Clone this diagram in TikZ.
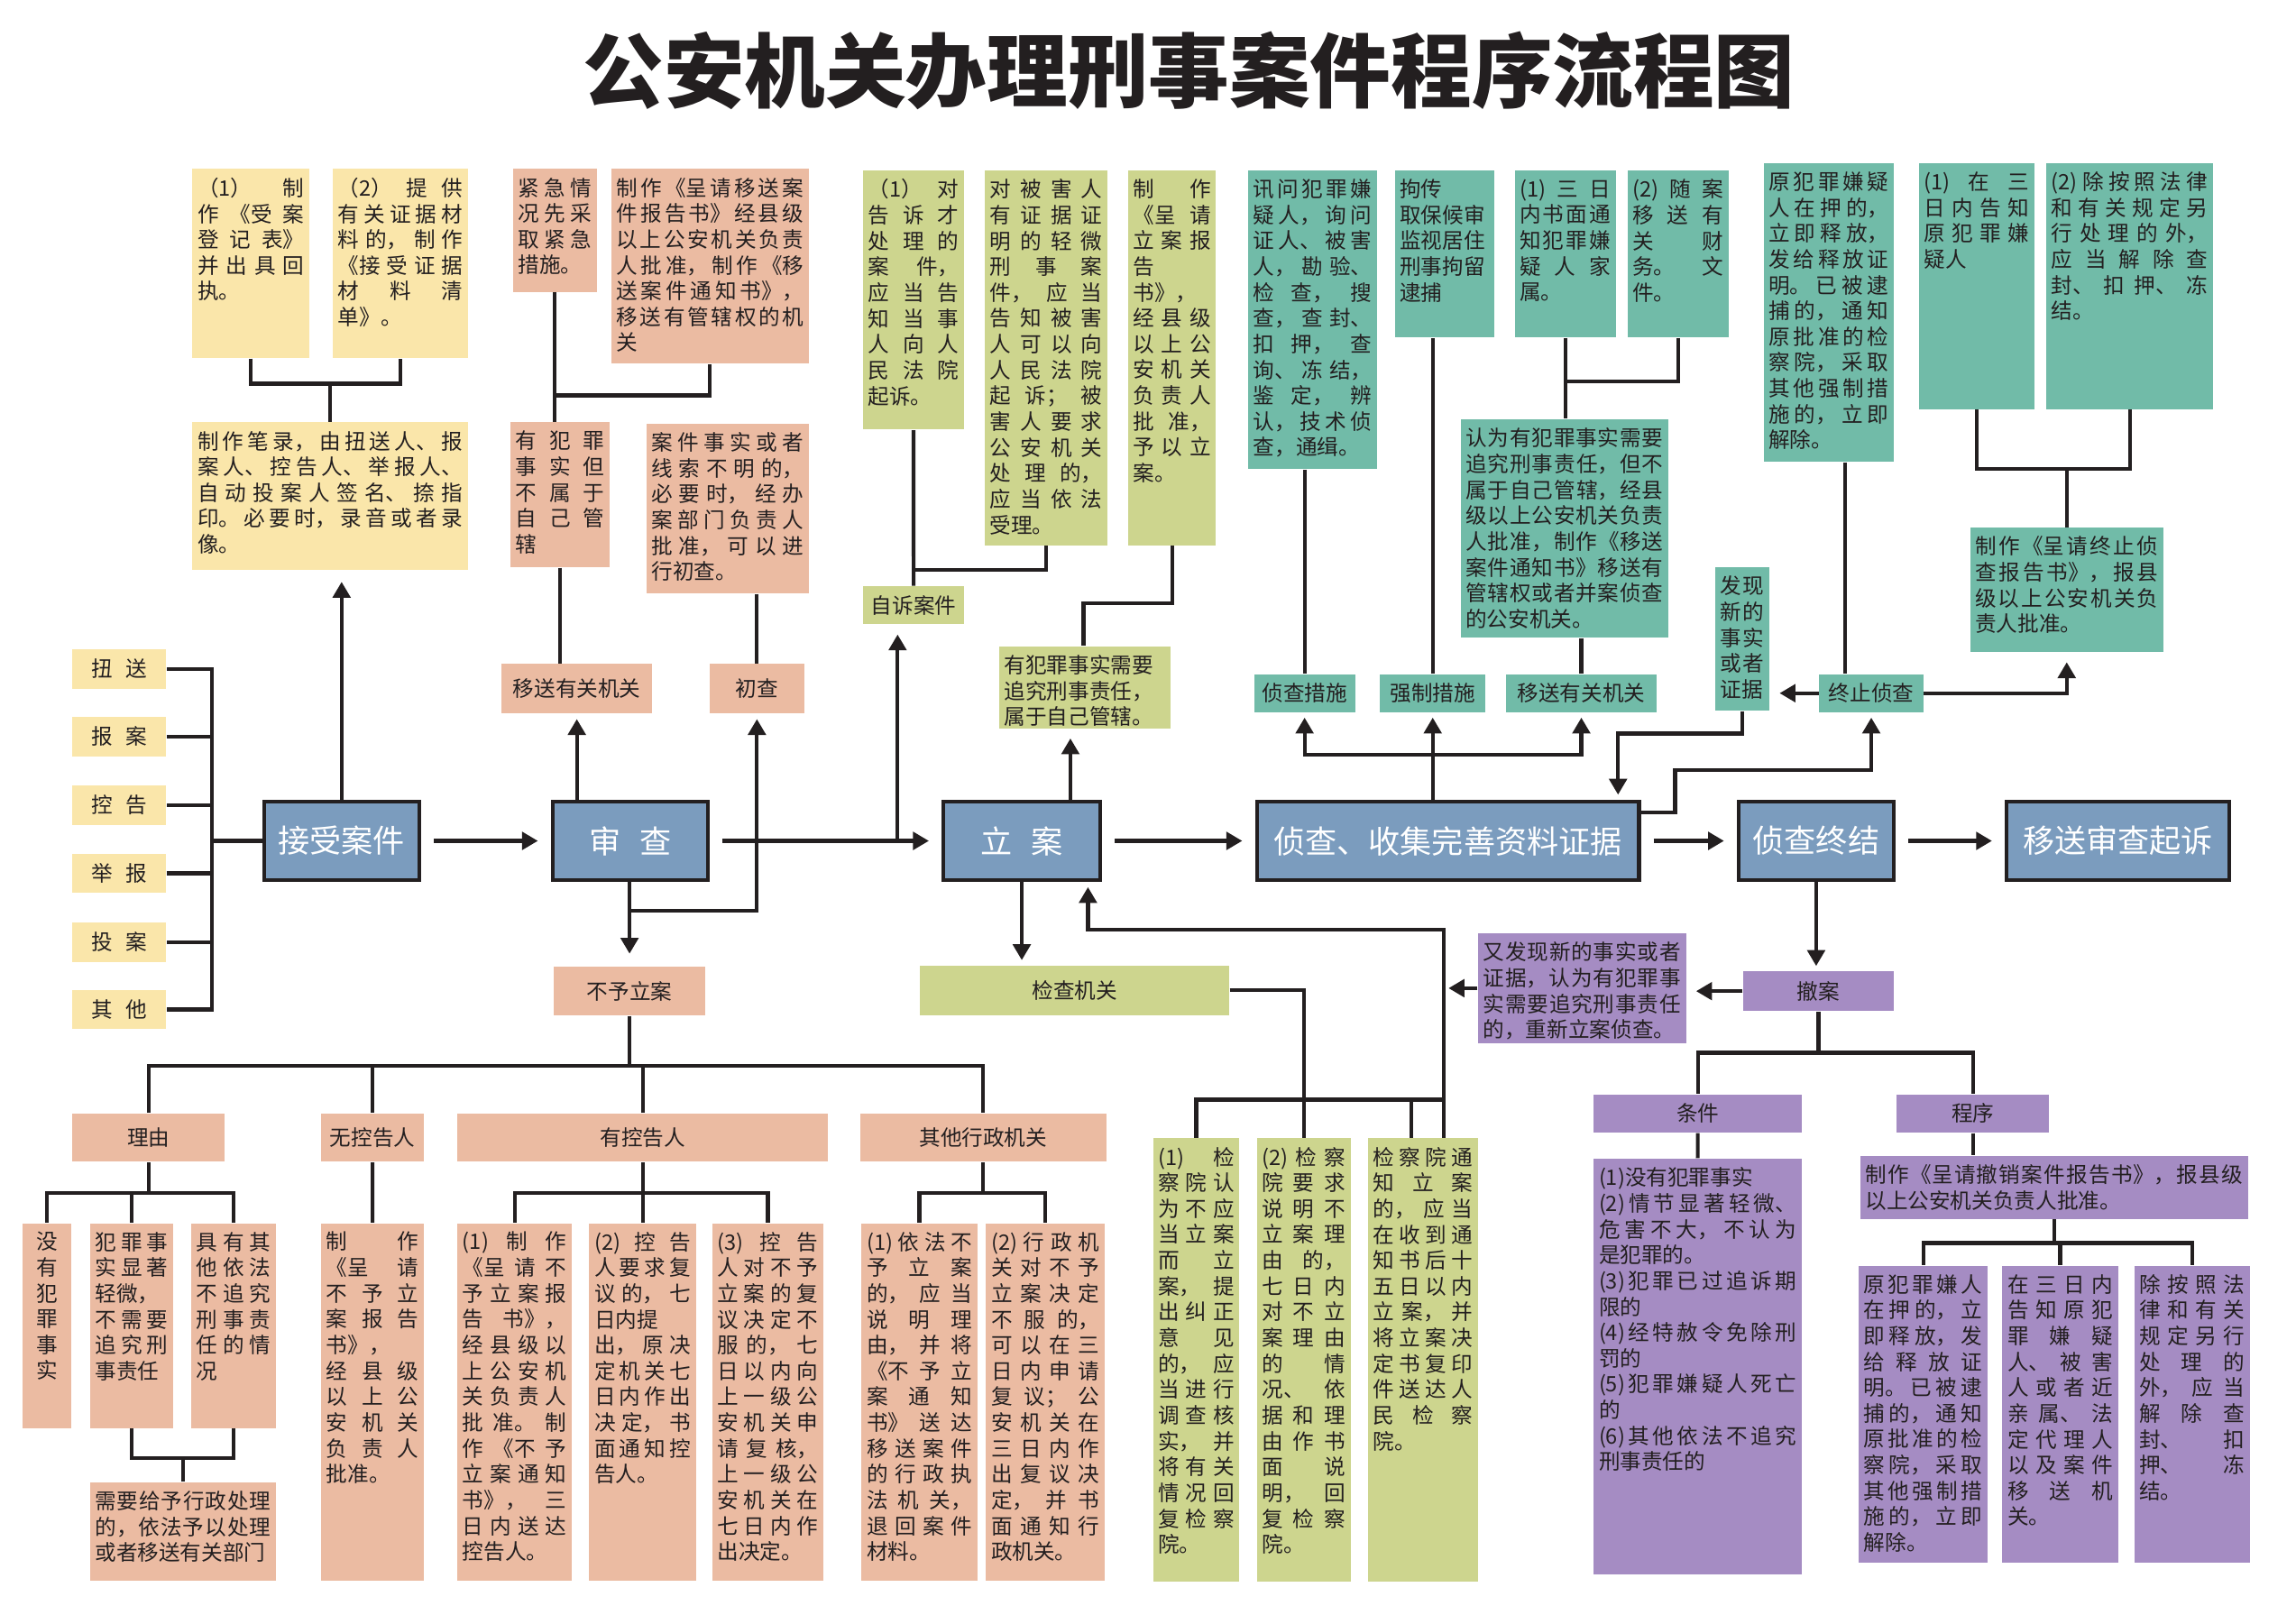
\documentclass[tikz,border=0pt]{standalone}
\usepackage{fontspec}
\setmainfont{Noto Sans CJK SC}
\usetikzlibrary{arrows.meta}

\XeTeXlinebreaklocale "zh"
\XeTeXlinebreakskip=0pt plus 8pt minus 0.5pt
\tolerance=10000
\hbadness=10000
\vbadness=10000
\hfuzz=20pt
\vfuzz=20pt

\definecolor{cYel}{HTML}{FAE6AA}
\definecolor{cPink}{HTML}{EBBBA2}
\definecolor{cOlive}{HTML}{CDD58E}
\definecolor{cTeal}{HTML}{71BBA8}
\definecolor{cPurp}{HTML}{A58CC3}
\definecolor{cBlue}{HTML}{7B9CBE}
\definecolor{cLine}{HTML}{231F20}
\definecolor{cText}{HTML}{231F20}

\newlength\pu
\setlength\pu{0.1624mm}
\newcommand\bx[3]{\parbox[c][\dimexpr#2\pu-12\pu\relax][t]{\dimexpr#1\pu-7\pu\relax}{#3}}
\newcommand\cb[3]{\parbox[c][#2\pu][c]{#1\pu}{\centering #3}}
\newcommand\brk{\linebreak}
\newcommand\bodyfont{\fontsize{6.72pt}{8.15pt}\selectfont}

\tikzset{
  ln/.style={draw=cLine, line width=1.2pt},
  ar/.style={ln, -{Triangle[length=5pt,width=5.5pt]}, shorten >=1.5pt},
  flow/.style={ar, shorten <=4pt, shorten >=4pt},
  note/.style={anchor=north west, inner xsep=1.61pt, inner ysep=2.76pt, text=cText, font=\bodyfont},
  chip/.style={anchor=north west, inner sep=0pt, text=cText, font=\bodyfont},
  ynote/.style={note, fill=cYel},
  pnote/.style={note, fill=cPink},
  gnote/.style={note, fill=cOlive},
  tnote/.style={note, fill=cTeal},
  vnote/.style={note, fill=cPurp},
  ychip/.style={chip, fill=cYel},
  pchip/.style={chip, fill=cPink},
  gchip/.style={chip, fill=cOlive},
  tchip/.style={chip, fill=cTeal},
  vchip/.style={chip, fill=cPurp},
  mainbox/.style={anchor=north west, inner sep=0pt, fill=cBlue, draw=cLine, line width=1.2pt, text=white, font=\fontsize{10pt}{12pt}\selectfont},
}

\begin{document}
\begin{tikzpicture}[x=0.1624mm, y=-0.1624mm]
  \fill[white] (0,0) rectangle (1568,1109);
  \useasboundingbox (0,0) rectangle (1568,1109);

  % title
  \node[font=\bfseries\fontsize{25.5pt}{30pt}\selectfont, text=cText] (title) at (812,48) {公安机关办理刑事案件程序流程图};

  % main line
  \node[mainbox] (jsaj) at (179,546) {\cb{106}{54}{接受案件}};
  \node[mainbox] (sc) at (376,546) {\cb{106}{54}{审\hspace{0.6em}查}};
  \node[mainbox] (la) at (643,546) {\cb{107}{54}{立\hspace{0.6em}案}};
  \node[mainbox] (zc) at (857,546) {\cb{261}{54}{侦查、收集完善资料证据}};
  \node[mainbox] (zj) at (1186,546) {\cb{106}{54}{侦查终结}};
  \node[mainbox] (ys) at (1369,546) {\cb{152}{54}{移送审查起诉}};
  \draw[flow] (jsaj.east) -- (sc.west);
  \draw[flow] (sc.east) -- (la.west);
  \draw[flow] (la.east) -- (zc.west);
  \draw[flow] (zc.east) -- (zj.west);
  \draw[flow] (zj.east) -- (ys.west);

  % sources of a case
  \node[ychip] (n1) at (49,443) {\cb{64}{27}{扭\hspace{4pt}送}};
  \node[ychip] (n2) at (49,489) {\cb{64}{27}{报\hspace{4pt}案}};
  \node[ychip] (n3) at (49,536) {\cb{64}{27}{控\hspace{4pt}告}};
  \node[ychip] (n4) at (49,582.5) {\cb{64}{27}{举\hspace{4pt}报}};
  \node[ychip] (n5) at (49,629.5) {\cb{64}{27}{投\hspace{4pt}案}};
  \node[ychip] (n6) at (49,675.5) {\cb{64}{27}{其\hspace{4pt}他}};
  \coordinate (lx) at (144.5,0);
  \draw[ln] (n1.east) -- (n1.east -| lx) -- (n6.east -| lx) -- (n6.east);
  \draw[ln] (n2.east) -- (n2.east -| lx);
  \draw[ln] (n3.east) -- (n3.east -| lx);
  \draw[ln] (n4.east) -- (n4.east -| lx);
  \draw[ln] (n5.east) -- (n5.east -| lx);
  \draw[ln] (jsaj.west -| lx) -- (jsaj.west);

  % receiving the case
  \node[ynote] (y1) at (131,115) {\bx{80}{129}{（1）制\brk 作《受案\brk 登记表》\brk 并出具回\brk 执。}};
  \node[ynote] (y2) at (227,115) {\bx{92}{129}{（2）提供\brk 有关证据材\brk 料的，制作\brk 《接受证据\brk 材料清\brk 单》。}};
  \node[ynote] (y3) at (131,288) {\bx{188}{101}{制作笔录，由扭送人、报\brk 案人、控告人、举报人、\brk 自动投案人签名、捺指\brk 印。必要时，录音或者录\brk 像。}};
  \coordinate (jy) at (0,262);
  \draw[ln] (y1.south) |- (y2.south |- jy) -- (y2.south);
  \draw[ln] (y3.north |- jy) -- (y3.north);
  \draw[ar, shorten >=3.5pt] (jsaj.north) -- (jsaj.north |- y3.south);

  % review
  \node[pnote] (p1) at (350,115) {\bx{57}{84}{紧急情\brk 况先采\brk 取紧急\brk 措施。}};
  \node[pnote] (p2) at (417,115) {\bx{135}{133}{制作《呈请移送案\brk 件报告书》经县级\brk 以上公安机关负责\brk 人批准，制作《移\brk 送案件通知书》，\brk 移送有管辖权的机\brk 关}};
  \node[pnote] (p3) at (348,288) {\bx{68}{99}{有犯罪\brk 事实但\brk 不属于\brk 自己管\brk 辖}};
  \node[pnote] (p4) at (441,289) {\bx{111}{116}{案件事实或者\brk 线索不明的，\brk 必要时，经办\brk 案部门负责人\brk 批准，可以进\brk 行初查。}};
  \node[pchip] (pmove) at (342,453) {\cb{103}{34}{移送有关机关}};
  \node[pchip] (pchu) at (484,453) {\cb{65}{34}{初查}};
  \node[pchip] (buyu) at (378,660) {\cb{103}{33}{不予立案}};
  \coordinate (jp) at (0,270);
  \draw[ln] (p1.south) -- (p1.south |- p3.north);
  \draw[ln] (p2.south) |- (p1.south |- jp);
  \draw[ln] (p3.south) -- (p3.south |- pmove.north);
  \draw[ln] (p4.south -| pchu.north) -- (pchu.north);
  \draw[ar] (pmove.south |- sc.north) -- (pmove.south);
  \draw[ar, shorten >=4pt] (sc.south -| buyu.north) -- (buyu.north);
  \coordinate (jc) at (429.5,622);
  \draw[ar] (jc) -| (pchu.south);

  % private prosecution and filing
  \node[gnote] (g1) at (589,116) {\bx{69}{177}{（1）对\brk 告诉才\brk 处理的\brk 案件，\brk 应当告\brk 知当事\brk 人向人\brk 民法院\brk 起诉。}};
  \node[gnote] (g2) at (672,116) {\bx{84}{256}{对被害人\brk 有证据证\brk 明的轻微\brk 刑事案\brk 件，应当\brk 告知被害\brk 人可以向\brk 人民法院\brk 起诉；被\brk 害人要求\brk 公安机关\brk 处理的，\brk 应当依法\brk 受理。}};
  \node[gnote] (g3) at (770,116) {\bx{60}{256}{制作\brk 《呈请\brk 立案报\brk 告\\书》，\brk 经县级\brk 以上公\brk 安机关\brk 负责人\brk 批准，\brk 予以立\brk 案。}};
  \node[gchip] (zisu) at (589,400) {\cb{69}{26}{自诉案件}};
  \node[gnote] (gsmall) at (682,441) {\bx{117}{56}{有犯罪事实需要\\追究刑事责任，\\属于自己管辖。}};
  \node[gchip] (jcjg) at (628,659) {\cb{211}{34}{检查机关}};
  \coordinate (jg) at (0,389);
  \coordinate (jg3) at (740,412);
  \coordinate (zs) at (613,573);
  \coordinate (la1) at (731,0);
  \draw[ln] (g1.south) -- (zisu.north);
  \draw[ln] (g2.south) |- (g1.south |- jg);
  \draw[ln] (g3.south) |- (jg3) -- (jg3 |- gsmall.north);
  \draw[ar, shorten >=3pt] (zs) -- (zs |- zisu.south);
  \draw[ar, shorten >=3pt] (la1 |- la.north) -- (la1 |- gsmall.south);
  \draw[ar] (la.south) -- (la.south |- jcjg.north);

  % procuratorate supervision
  \node[gnote] (gb1) at (787,777) {\bx{59}{303}{(1)检\brk 察院认\brk 为不应\brk 当立案\brk 而立\brk 案，提\brk 出纠正\brk 意见\brk 的，应\brk 当进行\brk 调查核\brk 实，并\brk 将有关\brk 情况回\brk 复检察\brk 院。}};
  \node[gnote] (gb2) at (858,777) {\bx{64}{303}{(2)检察\brk 院要求\brk 说明不\brk 立案理\brk 由的，\brk 七日内\brk 对不立\brk 案理由\brk 的情\brk 况、依\brk 据和理\brk 由作书\brk 面说\brk 明，回\brk 复检察\brk 院。}};
  \node[gnote] (gb3) at (934,777) {\bx{75}{303}{检察院通\brk 知立案\brk 的，应当\brk 在收到通\brk 知书后十\brk 五日以内\brk 立案，并\brk 将立案决\brk 定书复印\brk 件送达人\brk 民检察\brk 院。}};
  \coordinate (jb) at (986,751);
  \coordinate (jb3) at (964,751);
  \coordinate (lp) at (743,635);
  \draw[ln] (jcjg.east) -| (gb2.north);
  \draw[ln] (gb1.north) |- (jb);
  \draw[ln] (jb3) -- (jb3 |- gb3.north);
  \draw[ar] (jb |- gb3.north) -- (jb |- lp) -- (lp) -- (lp |- la.south);

  % investigation measures
  \node[tnote] (t1) at (852,116) {\bx{88}{204}{讯问犯罪嫌\brk 疑人，询问\brk 证人、被害\brk 人，勘验、\brk 检查，搜\brk 查，查封、\brk 扣押，查\brk 询、冻结，\brk 鉴定，辨\brk 认，技术侦\brk 查，通缉。}};
  \node[tnote] (t2) at (952,116) {\bx{68}{114}{拘传\\取保候审\\监视居住\\刑事拘留\\逮捕}};
  \node[tnote] (t3) at (1034,116) {\bx{69}{114}{(1)三日\brk 内书面通\brk 知犯罪嫌\brk 疑人家\brk 属。}};
  \node[tnote] (t4) at (1111,116) {\bx{69}{114}{(2)随案\brk 移送有\brk 关财\brk 务。文\brk 件。}};
  \node[tnote] (t5) at (997,286) {\bx{142}{149}{认为有犯罪事实需要\brk 追究刑事责任，但不\brk 属于自己管辖，经县\brk 级以上公安机关负责\brk 人批准，制作《移送\brk 案件通知书》移送有\brk 管辖权或者并案侦查\brk 的公安机关。}};
  \node[tchip] (tzc) at (856,460) {\cb{69}{26}{侦查措施}};
  \node[tchip] (tqz) at (942,460) {\cb{72}{26}{强制措施}};
  \node[tchip] (tys) at (1028,460) {\cb{103}{26}{移送有关机关}};
  \coordinate (jt5) at (0,260.5);
  \coordinate (jz) at (0,515.5);
  \draw[ln] (t1.south -| tzc.north) -- (tzc.north);
  \draw[ln] (t2.south -| tqz.north) -- (tqz.north);
  \draw[ln] (t3.south) -- (t3.south |- t5.north);
  \draw[ln] (t4.south) |- (t3.south |- jt5);
  \draw[ln] (t5.south -| tys.north) -- (tys.north);
  \draw[ar] (tqz.south |- zc.north) -- (tqz.south);
  \draw[ar] (tqz.south |- jz) -| (tzc.south);
  \draw[ar] (tqz.south |- jz) -| (tys.south);

  % termination of investigation
  \node[tnote] (t6) at (1171,387) {\bx{37}{98}{发现\brk 新的\brk 事实\brk 或者\brk 证据}};
  \node[tnote] (t7) at (1204,111) {\bx{89}{204}{原犯罪嫌疑\brk 人在押的，\brk 立即释放，\brk 发给释放证\brk 明。已被逮\brk 捕的，通知\brk 原批准的检\brk 察院，采取\brk 其他强制措\brk 施的，立即\brk 解除。}};
  \node[tnote] (t8) at (1310,111) {\bx{79}{168}{(1)在三\brk 日内告知\brk 原犯罪嫌\brk 疑人}};
  \node[tnote] (t9) at (1397,111) {\bx{114}{168}{(2)除按照法律\brk 和有关规定另\brk 行处理的外，\brk 应当解除查\brk 封、扣押、冻\brk 结。}};
  \node[tnote] (t10) at (1345,360) {\bx{132}{85}{制作《呈请终止侦\brk 查报告书》，报县\brk 级以上公安机关负\brk 责人批准。}};
  \node[tchip] (tzz) at (1242,460) {\cb{71}{26}{终止侦查}};
  \coordinate (jt9) at (0,320);
  \coordinate (d7) at (1260,0);
  \coordinate (j6) at (1105,501);
  \coordinate (jz3) at (1144,555);
  \coordinate (jz2) at (1144,526);
  \draw[ln] (t8.south) |- (t9.south |- jt9) -- (t9.south);
  \draw[ln] (t10.north |- jt9) -- (t10.north);
  \draw[ln] (t7.south -| d7) -- (tzz.north -| d7);
  \draw[ar, shorten >=3pt] (tzz.west) -- (tzz.west -| t6.east);
  \draw[ar, shorten >=3pt] (tzz.east) -| (t10.south);
  \draw[ar] (t6.south) |- (j6) -- (j6 |- zc.north);
  \draw[ar] (zc.east |- jz3) -- (jz3) -- (jz2) -| (tzz.south);

  % withdrawal of the case
  \node[vnote] (pfx) at (1009,637) {\bx{142}{75}{又发现新的事实或者\brk 证据，认为有犯罪事\brk 实需要追究刑事责任\brk 的，重新立案侦查。}};
  \node[vchip] (cheak) at (1190,663) {\cb{103}{27}{撤案}};
  \node[vchip] (tiaojian) at (1088,747) {\cb{142}{26}{条件}};
  \node[vchip] (chengxu) at (1295,747) {\cb{104}{26}{程序}};
  \node[vnote] (tjlist) at (1088,791) {\bx{142}{284}{(1)没有犯罪事实\\(2)情节显著轻微、\brk 危害不大，不认为\brk 是犯罪的。\\(3)犯罪已过追诉期\brk 限的\\(4)经特赦令免除刑\brk 罚的\\(5)犯罪嫌疑人死亡\brk 的\\(6)其他依法不追究\brk 刑事责任的}};
  \node[vnote] (cxsq) at (1270,789) {\bx{265}{43}{制作《呈请撤销案件报告书》，报县级\brk 以上公安机关负责人批准。}};
  \node[vnote] (pb1) at (1269,864) {\bx{88}{203}{原犯罪嫌人\brk 在押的，立\brk 即释放，发\brk 给释放证\brk 明。已被逮\brk 捕的，通知\brk 原批准的检\brk 察院，采取\brk 其他强制措\brk 施的，立即\brk 解除。}};
  \node[vnote] (pb2) at (1367,864) {\bx{79}{203}{在三日内\brk 告知原犯\brk 罪嫌疑\brk 人、被害\brk 人或者近\brk 亲属、法\brk 定代理人\brk 以及案件\brk 移送机\brk 关。}};
  \node[vnote] (pb3) at (1457,864) {\bx{79}{203}{除按照法\brk 律和有关\brk 规定另行\brk 处理的\brk 外，应当\brk 解除查\brk 封、扣\brk 押、冻\brk 结。}};
  \coordinate (jt) at (0,719);
  \coordinate (jq) at (0,849);
  \draw[ar] (zj.south) -- (zj.south |- cheak.north);
  \draw[ar, shorten >=3pt] (cheak.west) -- (cheak.west -| pfx.east);
  \draw[ar] (pfx.west) -- (pfx.west -| jb);
  \draw[ln] (cheak.south) -- (cheak.south |- jt);
  \draw[ln] (tiaojian.north) |- (chengxu.north |- jt) -- (chengxu.north);
  \draw[ln] (tiaojian.south) -- (tjlist.north);
  \draw[ln] (chengxu.south) -- (chengxu.south |- cxsq.north);
  \draw[ln] (cxsq.south) -- (cxsq.south |- jq);
  \draw[ln] (pb1.north) |- (pb3.north |- jq) -- (pb3.north);
  \draw[ln] (pb2.north) -- (pb2.north |- jq);

  % no filing
  \node[pchip] (liyou) at (49,760) {\cb{104}{33}{理由}};
  \node[pchip] (wukg) at (219,760) {\cb{70}{33}{无控告人}};
  \node[pchip] (youkg) at (312,760) {\cb{253}{33}{有控告人}};
  \node[pchip] (qita) at (587,760) {\cb{168}{33}{其他行政机关}};
  \node[pnote] (r1) at (15,835) {\bx{33}{140}{\centering 没\\有\\犯\\罪\\事\\实}};
  \node[pnote] (r2) at (61,835) {\bx{57}{140}{犯罪事\brk 实显著\brk 轻微，\\不需要\brk 追究刑\brk 事责任}};
  \node[pnote] (r3) at (130,835) {\bx{58}{140}{具有其\brk 他依法\brk 不追究\brk 刑事责\brk 任的情\brk 况}};
  \node[pnote] (r4) at (61,1012) {\bx{127}{67}{需要给予行政处理\brk 的，依法予以处理\brk 或者移送有关部门}};
  \node[pnote] (w1) at (219,835) {\bx{70}{244}{制作\brk 《呈请\brk 不予立\brk 案报告\brk 书》，\brk 经县级\brk 以上公\brk 安机关\brk 负责人\brk 批准。}};
  \node[pnote] (k1) at (312,835) {\bx{78}{244}{(1)制作\brk 《呈请不\brk 予立案报\brk 告书》，\brk 经县级以\brk 上公安机\brk 关负责人\brk 批准。制\brk 作《不予\brk 立案通知\brk 书》，三\brk 日内送达\brk 控告人。}};
  \node[pnote] (k2) at (402,835) {\bx{73}{244}{(2)控告\brk 人要求复\brk 议的，七\brk 日内提\\出，原决\brk 定机关七\brk 日内作出\brk 决定，书\brk 面通知控\brk 告人。}};
  \node[pnote] (k3) at (486,835) {\bx{76}{244}{(3)控告\brk 人对不予\brk 立案的复\brk 议决定不\brk 服的，七\brk 日以内向\brk 上一级公\brk 安机关申\brk 请复核，\brk 上一级公\brk 安机关在\brk 七日内作\brk 出决定。}};
  \node[pnote] (a1) at (588,835) {\bx{79}{244}{(1)依法不\brk 予立案\brk 的，应当\brk 说明理\brk 由，并将\brk 《不予立\brk 案通知\brk 书》送达\brk 移送案件\brk 的行政执\brk 法机关，\brk 退回案件\brk 材料。}};
  \node[pnote] (a2) at (673,835) {\bx{81}{244}{(2)行政机\brk 关对不予\brk 立案决定\brk 不服的，\brk 可以在三\brk 日内申请\brk 复议；公\brk 安机关在\brk 三日内作\brk 出复议决\brk 定，并书\brk 面通知行\brk 政机关。}};
  \coordinate (jn) at (0,728);
  \coordinate (jl) at (0,815);
  \coordinate (jr) at (0,996);
  \draw[ln] (buyu.south) -- (buyu.south |- jn);
  \draw[ln] (liyou.north) |- (qita.north |- jn) -- (qita.north);
  \draw[ln] (wukg.north) -- (wukg.north |- jn);
  \draw[ln] (youkg.north) -- (youkg.north |- jn);
  \draw[ln] (liyou.south) -- (liyou.south |- jl);
  \draw[ln] (r1.north) |- (r3.north |- jl) -- (r3.north);
  \draw[ln] (r2.north) -- (r2.north |- jl);
  \draw[ln] (r2.south) |- (r3.south |- jr) -- (r3.south);
  \draw[ln] (r4.north |- jr) -- (r4.north);
  \draw[ln] (wukg.south) -- (w1.north);
  \draw[ln] (youkg.south) -- (youkg.south |- jl);
  \draw[ln] (k1.north) |- (k3.north |- jl) -- (k3.north);
  \draw[ln] (k2.north) -- (k2.north |- jl);
  \draw[ln] (qita.south) -- (qita.south |- jl);
  \draw[ln] (a1.north) |- (a2.north |- jl) -- (a2.north);

\end{tikzpicture}
\end{document}
